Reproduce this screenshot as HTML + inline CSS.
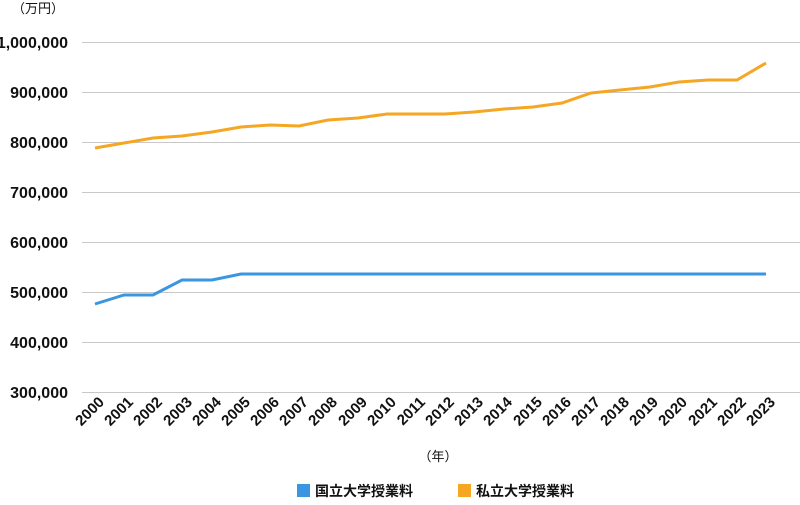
<!DOCTYPE html>
<html><head><meta charset="utf-8"><style>
body{margin:0;background:#fff;}
text{font-family:"Liberation Sans","Noto Sans CJK JP",sans-serif;fill:#111;}
</style></head><body>
<svg width="800" height="500" xmlns="http://www.w3.org/2000/svg">
<text x="12" y="13" font-size="13">（万円）</text>
<g stroke="#c8c8c8" stroke-width="1">
<line x1="82" y1="42.5" x2="800" y2="42.5"/><line x1="82" y1="92.5" x2="800" y2="92.5"/>
<line x1="82" y1="142.5" x2="800" y2="142.5"/><line x1="82" y1="192.5" x2="800" y2="192.5"/>
<line x1="82" y1="242.5" x2="800" y2="242.5"/><line x1="82" y1="292.5" x2="800" y2="292.5"/>
<line x1="82" y1="342.5" x2="800" y2="342.5"/><line x1="82" y1="392.5" x2="800" y2="392.5"/>
</g>
<g font-size="16" font-weight="bold" text-anchor="end">
<text x="68" y="48">1,000,000</text><text x="68" y="98">900,000</text>
<text x="68" y="148">800,000</text><text x="68" y="198">700,000</text>
<text x="68" y="248">600,000</text><text x="68" y="298">500,000</text>
<text x="68" y="348">400,000</text><text x="68" y="398">300,000</text>
</g>
<g font-size="15" font-weight="bold" text-anchor="end">
<text transform="translate(105,403) rotate(-45)">2000</text>
<text transform="translate(134,403) rotate(-45)">2001</text>
<text transform="translate(163,403) rotate(-45)">2002</text>
<text transform="translate(193,403) rotate(-45)">2003</text>
<text transform="translate(222,403) rotate(-45)">2004</text>
<text transform="translate(251,403) rotate(-45)">2005</text>
<text transform="translate(280,403) rotate(-45)">2006</text>
<text transform="translate(309,403) rotate(-45)">2007</text>
<text transform="translate(338,403) rotate(-45)">2008</text>
<text transform="translate(368,403) rotate(-45)">2009</text>
<text transform="translate(397,403) rotate(-45)">2010</text>
<text transform="translate(426,403) rotate(-45)">2011</text>
<text transform="translate(455,403) rotate(-45)">2012</text>
<text transform="translate(484,403) rotate(-45)">2013</text>
<text transform="translate(513,403) rotate(-45)">2014</text>
<text transform="translate(543,403) rotate(-45)">2015</text>
<text transform="translate(572,403) rotate(-45)">2016</text>
<text transform="translate(601,403) rotate(-45)">2017</text>
<text transform="translate(630,403) rotate(-45)">2018</text>
<text transform="translate(659,403) rotate(-45)">2019</text>
<text transform="translate(688,403) rotate(-45)">2020</text>
<text transform="translate(718,403) rotate(-45)">2021</text>
<text transform="translate(747,403) rotate(-45)">2022</text>
<text transform="translate(776,403) rotate(-45)">2023</text>
</g>
<polyline fill="none" stroke="#f5a623" stroke-width="3" points="95,148 124,143 153,138 182,136 212,132 241,127 270,125 299,126 328,120 358,118 387,114 416,114 445,114 474,112 504,109 533,107 562,103 591,93 620,90 650,87 679,82 708,80 737,80 766,63"/>
<polyline fill="none" stroke="#3a96e0" stroke-width="3" points="95,304 124,295 153,295 182,280 212,280 241,274 270,274 299,274 328,274 358,274 387,274 416,274 445,274 474,274 504,274 533,274 562,274 591,274 620,274 650,274 679,274 708,274 737,274 766,274"/>
<text x="438" y="461" font-size="13" text-anchor="middle">（年）</text>
<rect x="297" y="484" width="13" height="13" fill="#3a96e0"/>
<text x="315" y="496" font-size="14" font-weight="bold">国立大学授業料</text>
<rect x="458" y="484" width="13" height="13" fill="#f5a623"/>
<text x="476" y="496" font-size="14" font-weight="bold">私立大学授業料</text>
</svg>
</body></html>
